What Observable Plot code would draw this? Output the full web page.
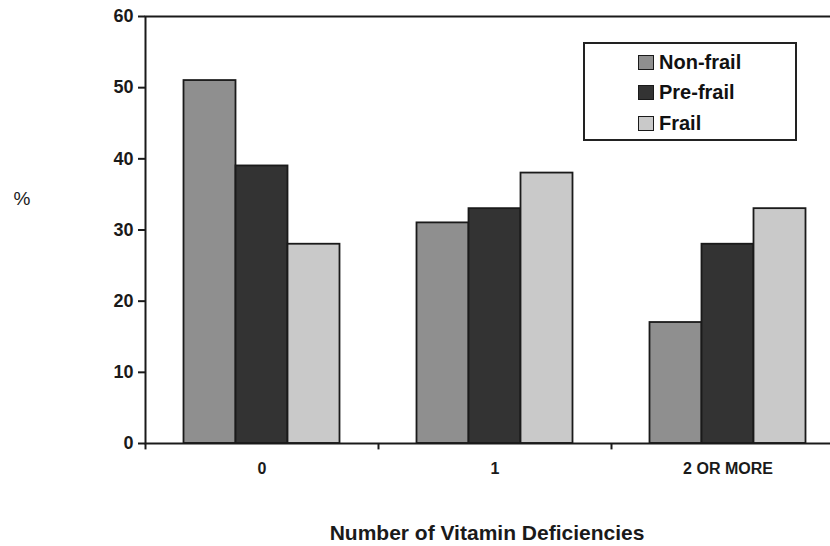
<!DOCTYPE html>
<html>
<head>
<meta charset="utf-8">
<script src="https://cdn.jsdelivr.net/npm/d3@7"></script>
<script src="https://cdn.jsdelivr.net/npm/@observablehq/plot@0.6"></script>
<style>
  html, body { margin: 0; padding: 0; background: #fff; overflow: hidden; }
  #wrap { position: relative; width: 830px; height: 546px; overflow: hidden; font-family: "Liberation Sans", Arial, sans-serif; }
  #wrap svg { max-width: none !important; display: block; }
  #legend { position: absolute; left: 583px; top: 42px; width: 214px; height: 99px; box-sizing: border-box; border: 2px solid #222; background: #fff; }
  .item { position: absolute; left: 53px; height: 20px; display: flex; align-items: center; font-weight: bold; font-size: 20px; color: #111; }
  .sw { width: 14px; height: 13px; border: 1.5px solid #1a1a1a; margin-right: 5px; }
</style>
</head>
<body>
<div id="wrap"></div>
<script>
// ---- data ----
const groups = ["0", "1", "2 OR MORE"];
const series = ["Non-frail", "Pre-frail", "Frail"];
const nonFrail = [51, 31, 17];
const preFrail = [39, 33, 28];
const frail = [28, 38, 33];
const values = [nonFrail, preFrail, frail];
const colors = ["#8f8f8f", "#333333", "#c9c9c9"];
const yTicks = [0, 10, 20, 30, 40, 50, 60];
const xTitle = "Number of Vitamin Deficiencies";
const yTitle = "%";

// ---- layout ----
const W = 870, H = 546, mL = 145, mR = 26, mT = 16, mB = 103;
const bw = (W - mL - mR) / groups.length;   // band width
const barW = 52;
const outer = (bw - barW * series.length) / 2;
const ink = "#1a1a1a";

const barMarks = series.map((s, i) =>
  Plot.barY(groups, {
    x: d => d,
    y: (d, j) => values[i][j],
    fill: colors[i],
    stroke: ink,
    strokeWidth: 1.8,
    insetLeft: outer + i * barW,
    insetRight: bw - outer - (i + 1) * barW
  })
);

const chart = Plot.plot({
  width: W,
  height: H,
  marginLeft: mL,
  marginRight: mR,
  marginTop: mT,
  marginBottom: mB,
  style: { fontFamily: "'Liberation Sans', Arial, sans-serif", color: ink, background: "#fff", maxWidth: "none" },
  x: { type: "band", domain: groups, padding: 0 },
  y: { domain: [0, 60] },
  marks: [
    ...barMarks,
    Plot.frame({ stroke: ink, strokeWidth: 2 }),
    Plot.ruleX(groups, { x: d => d, dx: -bw / 2, y1: 0, y2: -0.9, stroke: ink, strokeWidth: 2 }),
    Plot.axisY({ ticks: yTicks, tickSize: 7, tickPadding: 5, label: null, fontSize: 18, fontWeight: "bold", stroke: ink, strokeWidth: 2 }),
    Plot.axisX({ tickSize: 0, tickPadding: 19, label: null, fontSize: 16, fontWeight: "bold" }),
    Plot.text([xTitle], { frameAnchor: "bottom", dx: -8, dy: 96, fontSize: 21, fontWeight: "bold", fill: ink }),
    Plot.text([yTitle], { frameAnchor: "left", dx: -132, dy: -31, fontSize: 19, fill: ink })
  ]
});

const wrap = document.getElementById("wrap");
wrap.appendChild(chart);

// legend (HTML overlay built from the series/colour arrays)
const legend = document.createElement("div");
legend.id = "legend";
series.forEach((s, i) => {
  const item = document.createElement("div");
  item.className = "item";
  item.style.top = (8 + i * 30.5) + "px";
  const sw = document.createElement("div");
  sw.className = "sw";
  sw.style.background = colors[i];
  item.appendChild(sw);
  item.appendChild(document.createTextNode(s));
  legend.appendChild(item);
});
wrap.appendChild(legend);
</script>
</body>
</html>
